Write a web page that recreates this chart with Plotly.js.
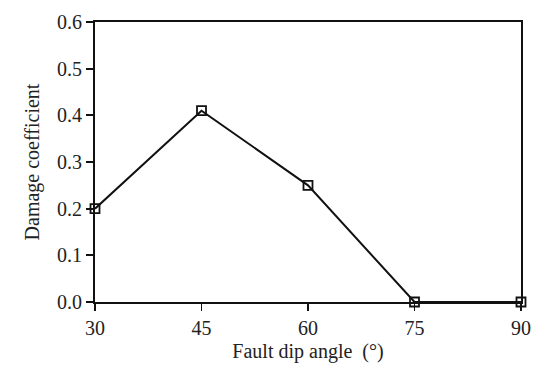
<!DOCTYPE html>
<html>
<head>
<meta charset="utf-8">
<script src="https://cdn.plot.ly/plotly-3.0.1.min.js"></script>
<style>html,body{margin:0;padding:0;background:#fff;}#chart{width:550px;height:378px;}</style>
</head>
<body>
<div id="chart"></div>
<script>
const dipAngles = [30, 45, 60, 75, 90];
const damageCoefficient = [0.2, 0.41, 0.25, 0.0, 0.0];
const xTicks = [30, 45, 60, 75, 90];
const yTicks = [0, 0.1, 0.2, 0.3, 0.4, 0.5, 0.6];
const yTickLabels = ['0.0', '0.1', '0.2', '0.3', '0.4', '0.5', '0.6'];

const font = {family: '"Liberation Serif", "Times New Roman", serif', size: 20, color: '#222'};

Plotly.newPlot('chart', [{
  x: dipAngles,
  y: damageCoefficient,
  type: 'scatter',
  mode: 'lines+markers',
  line: {color: '#111', width: 2},
  marker: {symbol: 'square-open', size: 9, color: '#111', line: {width: 1.8, color: '#111'}},
  cliponaxis: false,
  showlegend: false
}], {
  width: 550, height: 378,
  margin: {l: 95, r: 29, t: 22, b: 76},
  paper_bgcolor: '#fff', plot_bgcolor: '#fff',
  font: font,
  xaxis: {
    range: [30, 90], tickvals: xTicks, ticktext: xTicks.map(String),
    ticks: 'outside', ticklen: 7, tickwidth: 1.8, tickcolor: '#111',
    showline: true, linecolor: '#111', linewidth: 2, mirror: true,
    showgrid: false, zeroline: false,
    tickfont: font,
    title: {text: 'Fault dip angle \u00a0(\u00b0)', font: font, standoff: 6}
  },
  yaxis: {
    range: [0, 0.6], tickvals: yTicks, ticktext: yTickLabels,
    ticks: 'outside', ticklen: 7, tickwidth: 1.8, tickcolor: '#111',
    showline: true, linecolor: '#111', linewidth: 2, mirror: true,
    showgrid: false, zeroline: false,
    tickfont: font,
    title: {text: 'Damage coefficient', font: font, standoff: 12}
  }
}, {staticPlot: true, displayModeBar: false});
</script>
</body>
</html>
